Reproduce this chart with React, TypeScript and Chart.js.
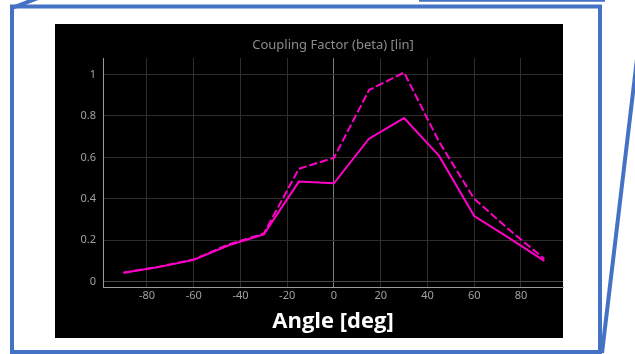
import React, { useEffect, useRef } from "react";
import { Chart, registerables } from "chart.js";

Chart.register(...registerables);

// Incidence angle samples (degrees)
const angles = [-90, -75, -60, -45, -30, -15, 0, 15, 30, 45, 60, 75, 90];
// Coupling factor, solid trace
const betaSolid = [0.043, 0.07, 0.105, 0.175, 0.228, 0.483, 0.475, 0.69, 0.79, 0.607, 0.317, 0.21, 0.1];
// Coupling factor, dashed trace
const betaDashed = [0.043, 0.072, 0.107, 0.18, 0.232, 0.545, 0.598, 0.925, 1.01, 0.675, 0.4, 0.25, 0.11];

const xTicks = [-80, -60, -40, -20, 0, 20, 40, 60, 80];
const yTicks = [0, 0.2, 0.4, 0.6, 0.8, 1];

const chartTitle = "Coupling Factor (beta) [lin]";
const xAxisTitle = "Angle [deg]";

const W = 635;
const H = 354;
const MAGENTA = "#ff00c8";
const FRAME_BLUE = "#4472c4";

// White page, blue callout frame and the black panel behind the plot
const backdrop = {
  id: "backdrop",
  beforeDraw(chart: any) {
    const ctx = chart.ctx as CanvasRenderingContext2D;
    ctx.save();
    ctx.fillStyle = "#ffffff";
    ctx.fillRect(0, 0, W, H);

    ctx.fillStyle = "#000000";
    ctx.fillRect(55, 24, 508, 314);

    ctx.strokeStyle = FRAME_BLUE;
    ctx.lineWidth = 4;
    ctx.lineJoin = "miter";
    ctx.strokeRect(12, 6.5, 588, 345.5);

    ctx.beginPath();
    ctx.moveTo(12, 8);
    ctx.lineTo(38, -2);
    ctx.stroke();

    ctx.beginPath();
    ctx.moveTo(644, 0);
    ctx.lineTo(602, 353);
    ctx.stroke();

    ctx.lineWidth = 2.5;
    ctx.beginPath();
    ctx.moveTo(419, 0.5);
    ctx.lineTo(605, 0.5);
    ctx.stroke();
    ctx.restore();
  },
};

export default function App() {
  const canvasRef = useRef<HTMLCanvasElement | null>(null);

  useEffect(() => {
    const canvas = canvasRef.current;
    if (!canvas) return;

    const solidPts = angles.map((a, i) => ({ x: a, y: betaSolid[i] }));
    const dashedPts = angles.map((a, i) => ({ x: a, y: betaDashed[i] }));

    const chart = new Chart(canvas, {
      type: "line",
      data: {
        datasets: [
          {
            label: "beta",
            data: dashedPts,
            borderColor: MAGENTA,
            borderWidth: 2,
            borderDash: [8, 3],
            pointRadius: 0,
            tension: 0,
            fill: false,
          },
          {
            label: "beta",
            data: solidPts,
            borderColor: MAGENTA,
            borderWidth: 2,
            pointRadius: 0,
            tension: 0,
            fill: false,
          },
        ],
      },
      options: {
        responsive: false,
        animation: false,
        devicePixelRatio: 1,
        layout: { padding: { left: 55, right: 72, top: 24, bottom: 16 } },
        plugins: {
          legend: { display: false },
          tooltip: { enabled: false },
          title: {
            display: true,
            text: chartTitle,
            fullSize: false,
            color: "#8c8c8c",
            font: { family: "'Noto Sans', sans-serif", size: 13, weight: "normal" },
            padding: { top: 13.2, bottom: 5.2 },
          },
        },
        scales: {
          x: {
            type: "linear",
            min: -98.8,
            max: 98,
            afterBuildTicks: (scale: any) => {
              scale.ticks = xTicks.map((v) => ({ value: v }));
            },
            afterFit: (scale: any) => {
              scale.height = 51;
            },
            ticks: {
              color: "#a0a0a0",
              font: { family: "'Noto Sans', sans-serif", size: 11 },
              padding: 2,
              maxRotation: 0,
              autoSkip: false,
            },
            grid: {
              color: (c: any) => (c.tick && c.tick.value === 0 ? "#7a7a7a" : "#2e2e2e"),
              lineWidth: 1,
              drawTicks: false,
            },
            border: { display: true, color: "#9a9a9a", width: 1 },
            title: {
              display: true,
              text: xAxisTitle,
              color: "#ffffff",
              font: { family: "'Open Sans', sans-serif", size: 22, weight: "bold" },
              padding: { top: 0, bottom: 3 },
            },
          },
          y: {
            type: "linear",
            min: -0.026,
            max: 1.08,
            afterBuildTicks: (scale: any) => {
              scale.ticks = yTicks.map((v) => ({ value: v }));
            },
            afterFit: (scale: any) => {
              scale.width = 48;
            },
            ticks: {
              color: "#a0a0a0",
              font: { family: "'Noto Sans', sans-serif", size: 11 },
              padding: 7,
              callback: (v: any) => String(v),
            },
            grid: {
              color: (c: any) => (c.tick && c.tick.value === 0 ? "#4a4a4a" : "#2e2e2e"),
              lineWidth: 1,
              drawTicks: false,
            },
            border: { display: true, color: "#9a9a9a", width: 1 },
          },
        },
      },
      plugins: [backdrop],
    });

    return () => chart.destroy();
  }, []);

  return (
    <div style={{ position: "fixed", left: 0, top: 0, width: W, height: H }}>
      <canvas ref={canvasRef} width={W} height={H} style={{ display: "block" }} />
    </div>
  );
}
